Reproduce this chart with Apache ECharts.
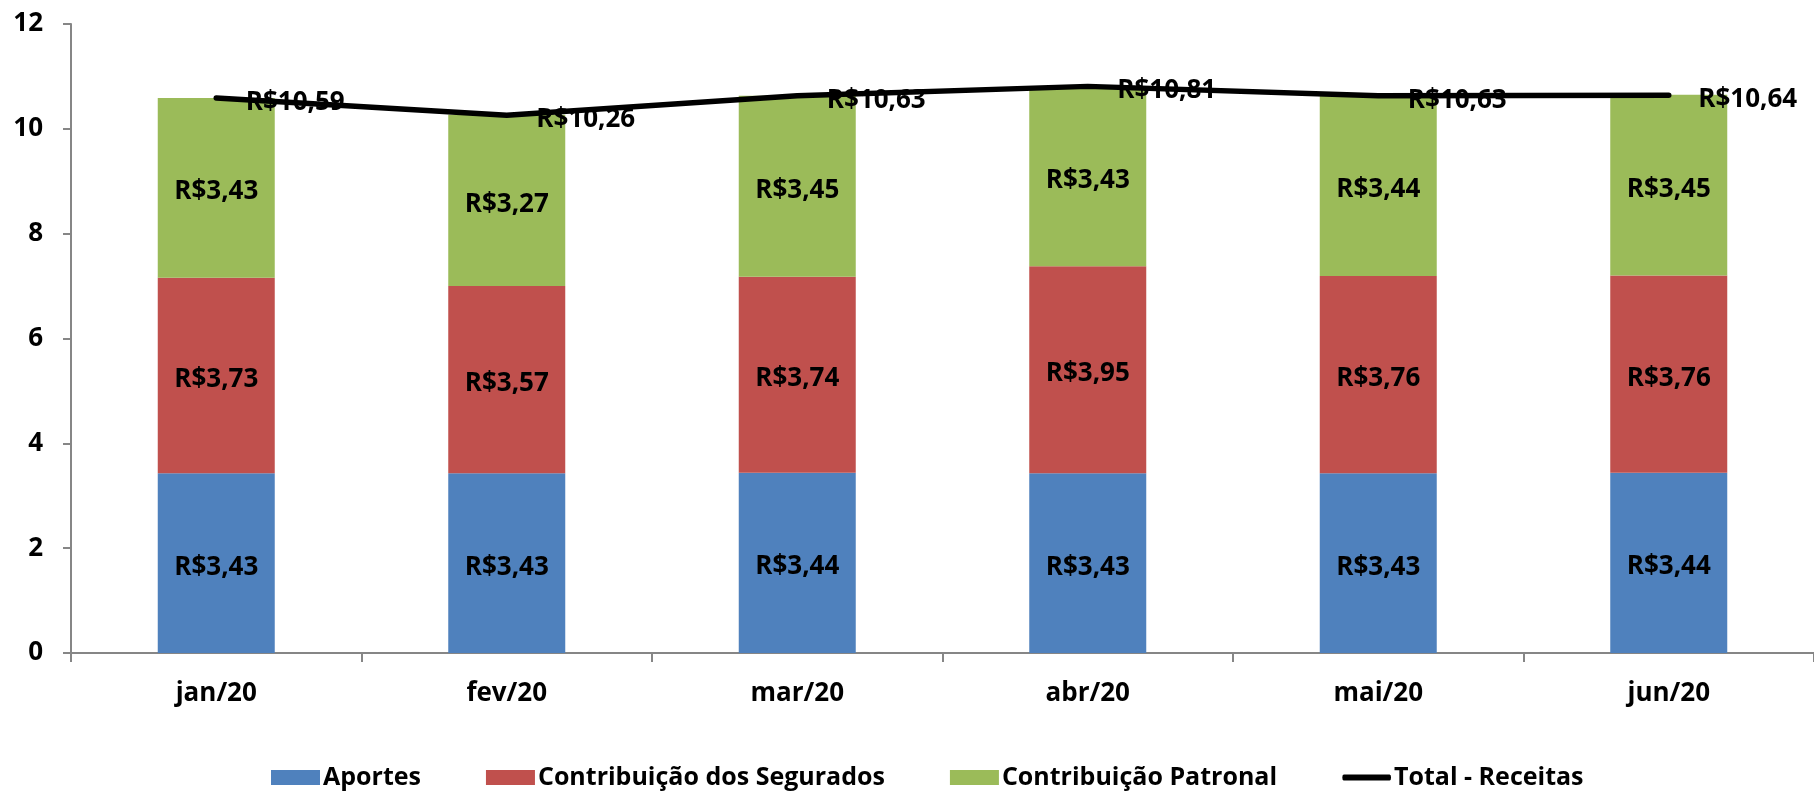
<!DOCTYPE html>
<html><head><meta charset="utf-8">
<script src="https://cdn.jsdelivr.net/npm/echarts@6/dist/echarts.min.js"></script>
<style>html,body{margin:0;padding:0;background:#fff}#c{width:1814px;height:792px}</style>
</head><body><div id="c"></div>
<script>
const categories = ['jan/20','fev/20','mar/20','abr/20','mai/20','jun/20'];
const aportes = [3.43, 3.43, 3.44, 3.43, 3.43, 3.44];
const segurados = [3.73, 3.57, 3.74, 3.95, 3.76, 3.76];
const patronal = [3.43, 3.27, 3.45, 3.43, 3.44, 3.45];
const total = [10.59, 10.26, 10.63, 10.81, 10.63, 10.64];
const yTicks = {min: 0, max: 12, interval: 2};

const FONT = '"Open Sans", "Noto Sans", sans-serif';
const fmt = p => 'R$' + Number(p.value).toFixed(2).replace('.', ',');
const barLabel = {show: true, position: 'inside', offset: [0, 4], formatter: fmt, color: '#000', fontWeight: 'bold', fontSize: 26, fontFamily: FONT};
function bar(name, data, color) {
  return {name, type: 'bar', stack: 'a', data, barWidth: 117, itemStyle: {color}, label: barLabel, emphasis: {disabled: true}};
}
const chart = echarts.init(document.getElementById('c'), null, {renderer: 'canvas'});
chart.setOption({
  animation: false,
  backgroundColor: '#fff',
  grid: {left: 71, top: 24, width: 1752, height: 629, containLabel: false},
  legend: {
    left: 266, top: 760, itemWidth: 49, itemHeight: 15, itemGap: 65, symbolKeepAspect: false,
    textStyle: {color: '#000', fontWeight: 'bold', fontSize: 25, fontFamily: FONT, padding: [0, 0, 0, -2]},
    data: [
      {name: 'Aportes', icon: 'rect'},
      {name: 'Contribuição dos Segurados', icon: 'rect'},
      {name: 'Contribuição Patronal', icon: 'rect'},
      {name: 'Total - Receitas', icon: 'path://M0,0 L0.01,0 M3.5,4.5 L96.5,4.5 A3,3 0 0 1 96.5,10.5 L3.5,10.5 A3,3 0 0 1 3.5,4.5 Z M0,15 L0.01,15', itemStyle: {color: '#000', borderWidth: 0}}
    ]
  },
  xAxis: {
    type: 'category', data: categories,
    axisLine: {lineStyle: {color: '#868686', width: 2}},
    axisTick: {show: true, length: 9, lineStyle: {color: '#868686', width: 2}},
    axisLabel: {color: '#000', fontWeight: 'bold', fontSize: 26, fontFamily: FONT, margin: 28}
  },
  yAxis: {
    type: 'value', min: yTicks.min, max: yTicks.max, interval: yTicks.interval,
    splitLine: {show: false},
    axisLine: {show: true, lineStyle: {color: '#868686', width: 2}},
    axisTick: {show: true, length: 8, lineStyle: {color: '#868686', width: 2}},
    axisLabel: {color: '#000', fontWeight: 'bold', fontSize: 26, fontFamily: FONT, margin: 28}
  },
  series: [
    bar('Aportes', aportes, '#4F81BD'),
    bar('Contribuição dos Segurados', segurados, '#C0504D'),
    bar('Contribuição Patronal', patronal, '#9BBB59'),
    {
      name: 'Total - Receitas', type: 'line', data: total,
      symbol: 'circle', symbolSize: 1, showSymbol: true,
      lineStyle: {color: '#000', width: 5.5, cap: 'round', join: 'round'},
      itemStyle: {color: '#000'},
      label: {show: true, position: [30, 5], align: 'left', verticalAlign: 'middle', formatter: fmt, color: '#000', fontWeight: 'bold', fontSize: 26, fontFamily: FONT},
      labelLayout: {hideOverlap: false},
      emphasis: {disabled: true}, z: 5
    }
  ]
});
</script></body></html>
